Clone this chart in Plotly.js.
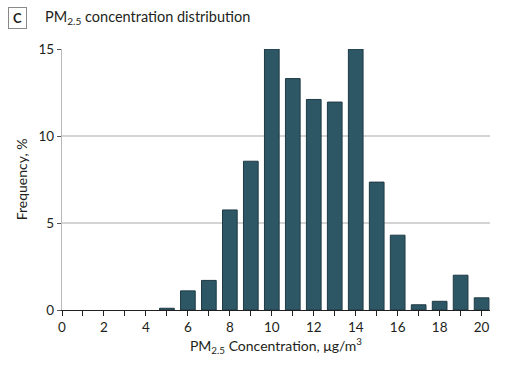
<!DOCTYPE html>
<html><head><meta charset="utf-8">
<script src="https://cdn.plot.ly/plotly-3.0.1.min.js"></script>
<style>body{margin:0;background:#fff}#c{width:511px;height:377px}</style>
</head><body><div id="c"></div>
<script>
const concentration = [5, 6, 7, 8, 9, 10, 11, 12, 13, 14, 15, 16, 17, 18, 19, 20];
const frequency = [0.1, 1.1, 1.7, 5.75, 8.55, 15, 13.3, 12.1, 11.95, 15, 7.35, 4.3, 0.3, 0.5, 2.0, 0.7];
const xTicks = [0, 2, 4, 6, 8, 10, 12, 14, 16, 18, 20];
const yTicks = [0, 5, 10, 15];

const font = "Lato, 'Open Sans', sans-serif";
const trace = {
  type: 'bar', x: concentration, y: frequency, width: 0.7,
  marker: {color: '#2d5764', line: {color: '#1e3a44', width: 1}},
  hoverinfo: 'x+y'
};
const layout = {
  width: 511, height: 377,
  margin: {l: 62, r: 21, t: 49, b: 67},
  paper_bgcolor: '#fff', plot_bgcolor: '#fff',
  font: {family: font, size: 13.5, color: '#231f20'},
  showlegend: false,
  xaxis: {
    range: [0, 20.4], tickvals: xTicks, ticktext: xTicks.map(String),
    showgrid: false, zeroline: false, showline: true, linecolor: '#231f20', linewidth: 1,
    ticks: 'outside', ticklen: 5, tickcolor: '#231f20',
    minor: {dtick: 1, tick0: 0, ticks: 'outside', ticklen: 5, tickcolor: '#231f20', showgrid: false},
    title: {text: 'PM<sub>2.5</sub> Concentration, μg/m<sup>3</sup>', font: {size: 14}, standoff: 6},
    fixedrange: true
  },
  yaxis: {
    range: [0, 15], tickvals: yTicks, ticktext: yTicks.map(String),
    showgrid: true, gridcolor: '#d4d4d4', gridwidth: 1.2,
    zeroline: false, showline: true, linecolor: '#b8b8b8', linewidth: 1.2,
    ticks: 'outside', ticklen: 4, tickcolor: '#555',
    title: {text: 'Frequency, %', font: {size: 14}, standoff: 7},
    fixedrange: true
  },
  annotations: [
    {text: '<b>C</b>', xref: 'paper', yref: 'paper', x: -0.105, y: 1.119, xanchor: 'center', yanchor: 'middle',
     showarrow: false, font: {size: 13}, bordercolor: '#888', borderwidth: 1, borderpad: 2, bgcolor: '#fff', width: 13, height: 16},
    {text: 'PM<sub>2.5</sub> concentration distribution', xref: 'paper', yref: 'paper', x: -0.044, y: 1.119,
     xanchor: 'left', yanchor: 'middle', showarrow: false, font: {size: 14.5}}
  ]
};
Plotly.newPlot('c', [trace], layout, {displayModeBar: false, staticPlot: true});
</script></body></html>
